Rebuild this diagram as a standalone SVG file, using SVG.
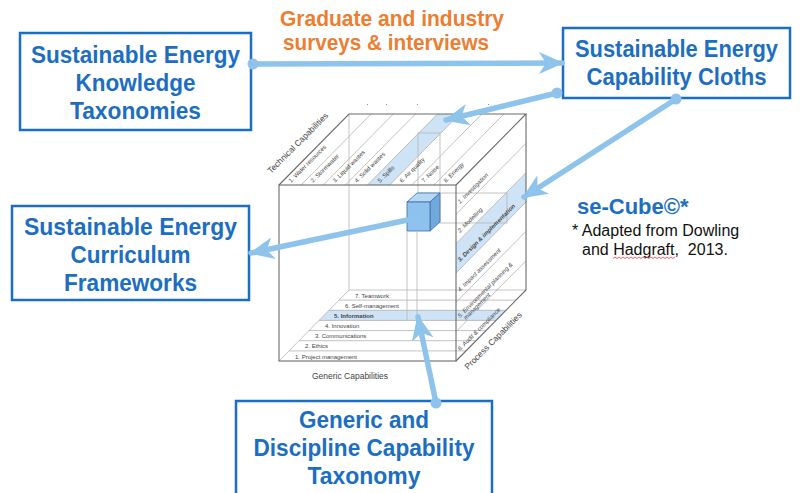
<svg xmlns="http://www.w3.org/2000/svg" width="800" height="493" viewBox="0 0 800 493">
<style>
.box{fill:#fff;stroke:#1b6ec2;stroke-width:2.5}
.bt{font-family:"Liberation Sans",Arial,sans-serif;font-weight:bold;font-size:23.5px;fill:#1b6ec2;text-anchor:middle}
.or{font-family:"Liberation Sans",Arial,sans-serif;font-weight:bold;font-size:21.5px;fill:#ed7d31;text-anchor:middle}
.edge{fill:none;stroke:#6b6b6b;stroke-width:1.1}
.hid{fill:none;stroke:#b5b5b5;stroke-width:0.8}
.str{fill:none;stroke:#a8a8a8;stroke-width:0.7}
.hl{fill:#cfe3f6;stroke:none}
.lab{font-family:"Liberation Sans",Arial,sans-serif;font-size:6px;fill:#444}
.labi{font-family:"Liberation Sans",Arial,sans-serif;font-size:6px;fill:#444;font-style:italic}
.cap{font-family:"Liberation Sans",Arial,sans-serif;font-size:8.5px;fill:#444}
.arr{fill:none;stroke:#8ec4ec;stroke-width:5.5;stroke-linecap:round}
</style>
<defs>
<marker id="ah" markerUnits="userSpaceOnUse" markerWidth="26" markerHeight="24" refX="23" refY="11" orient="auto" viewBox="0 0 26 24">
<path d="M0,0 L25,11 L0,22 L7,11 z" fill="#8ec4ec"/>
</marker>
<marker id="dot" markerUnits="userSpaceOnUse" markerWidth="12" markerHeight="12" refX="6" refY="6" viewBox="0 0 12 12">
<circle cx="6" cy="6" r="5.5" fill="#8ec4ec"/>
</marker>
</defs>
<rect width="800" height="493" fill="#fff"/>

<g id="cube">
<polygon points="279,185 456,185 526,114 349,114" fill="#fff"/>
<polygon class="hl" points="367.5,185 389.6,185 459.6,114 437.5,114"/>
<g class="str">
<line x1="301.1" y1="185" x2="371.1" y2="114"/>
<line x1="323.3" y1="185" x2="393.3" y2="114"/>
<line x1="345.4" y1="185" x2="415.4" y2="114"/>
<line x1="367.5" y1="185" x2="437.5" y2="114"/>
<line x1="389.6" y1="185" x2="459.6" y2="114"/>
<line x1="411.8" y1="185" x2="481.8" y2="114"/>
<line x1="433.9" y1="185" x2="503.9" y2="114"/>
</g>
<polygon class="hl" points="456,243.7 456,273 526,202 526,172.7"/>
<g class="str">
<line x1="456" y1="214.3" x2="526" y2="143.3"/>
<line x1="456" y1="243.7" x2="526" y2="172.7"/>
<line x1="456" y1="273" x2="526" y2="202"/>
<line x1="456" y1="302.3" x2="526" y2="231.3"/>
<line x1="456" y1="331.7" x2="526" y2="260.7"/>
</g>
<polygon class="hl" points="319,320.4 496,320.4 506,310.3 329,310.3"/>
<g class="str">
<line x1="289" y1="350.9" x2="466" y2="350.9"/>
<line x1="299" y1="340.7" x2="476" y2="340.7"/>
<line x1="309" y1="330.6" x2="486" y2="330.6"/>
<line x1="319" y1="320.4" x2="496" y2="320.4"/>
<line x1="329" y1="310.3" x2="506" y2="310.3"/>
<line x1="339" y1="300.1" x2="516" y2="300.1"/>
</g>
<g class="hid">
<line x1="349" y1="114" x2="349" y2="290"/>
<line x1="349" y1="290" x2="526" y2="290"/>
<line x1="279" y1="361" x2="349" y2="290"/>
<rect x="418" y="133" width="22" height="60"/>
<rect x="440" y="193" width="67" height="30"/>
<line x1="407" y1="232" x2="407" y2="320"/>
<line x1="417" y1="232" x2="417" y2="320"/>
</g>
<g class="edge">
<rect x="279" y="185" width="177" height="176"/>
<polyline points="279,185 349,114 526,114 456,185"/>
<polyline points="526,114 526,290 456,361"/>
</g>
<g fill="#999">
<rect x="367" y="104" width="1" height="1"/>
<rect x="386" y="104" width="1" height="1"/>
<rect x="417" y="104" width="1" height="1"/>
<rect x="488" y="104" width="1" height="1"/>
</g>
<g class="lab">
<text transform="translate(291,183) rotate(-45)">1. Water resources</text>
<text transform="translate(313,183) rotate(-45)">2. Stormwater</text>
<text transform="translate(335,183) rotate(-45)">3. Liquid wastes</text>
<text transform="translate(357,183) rotate(-45)">4. Solid wastes</text>
<text transform="translate(380,183) rotate(-45)">5. Spills</text>
<text transform="translate(402,183) rotate(-45)">6. Air quality</text>
<text transform="translate(424,183) rotate(-45)">7. Noise</text>
<text transform="translate(446,183) rotate(-45)">8. Energy</text>
</g>
<g class="labi">
<text transform="translate(460,204) rotate(-45)">1. Investigation</text>
<text transform="translate(460,233) rotate(-45)">2. Modelling</text>
<text transform="translate(460,262) rotate(-45)" font-weight="bold">3. Design &amp; implementation</text>
<text transform="translate(460,292) rotate(-45)">4. Impact assessment</text>
<text transform="translate(460,318) rotate(-45)">5. Environmental planning &amp;</text>
<text transform="translate(466,320) rotate(-45)">management</text>
<text transform="translate(460,351) rotate(-45)">6. Audit &amp; compliance</text>
</g>
<g class="lab">
<text x="355" y="298">7. Teamwork</text>
<text x="345" y="308">6. Self-management</text>
<text x="334" y="318" font-weight="bold">5. Information</text>
<text x="325" y="328">4. Innovation</text>
<text x="315" y="338">3. Communications</text>
<text x="305" y="348">2. Ethics</text>
<text x="295" y="358.5">1. Project management</text>
</g>
<text class="cap" transform="translate(271,174) rotate(-45)">Technical  Capabilities</text>
<text class="cap" x="350" y="379" text-anchor="middle">Generic Capabilities</text>
<text class="cap" transform="translate(468,370) rotate(-45)">Process Capabilities</text>
<polygon points="407,202 417,193 440,193 430,202" fill="#b7d8f5" stroke="#3a6ea5" stroke-width="0.8"/>
<polygon points="430,202 440,193 440,222 430,231" fill="#6fa9de" stroke="#3a6ea5" stroke-width="0.8"/>
<rect x="407" y="202" width="23" height="29" fill="#8fc1ee" stroke="#3a6ea5" stroke-width="0.8"/>
</g>

<g id="box-knowledge">
<rect class="box" x="20" y="33" width="231" height="97"/>
<text class="bt" x="135.5" y="63" textLength="209" lengthAdjust="spacingAndGlyphs">Sustainable Energy</text>
<text class="bt" x="135.5" y="91" textLength="120" lengthAdjust="spacingAndGlyphs">Knowledge</text>
<text class="bt" x="135.5" y="119" textLength="131" lengthAdjust="spacingAndGlyphs">Taxonomies</text>
</g>
<g id="box-cloths">
<rect class="box" x="563" y="28" width="227" height="70"/>
<text class="bt" x="676.5" y="57" textLength="203" lengthAdjust="spacingAndGlyphs">Sustainable Energy</text>
<text class="bt" x="676.5" y="85" textLength="180" lengthAdjust="spacingAndGlyphs">Capability Cloths</text>
</g>
<g id="box-curriculum">
<rect class="box" x="12" y="206" width="237" height="94"/>
<text class="bt" x="130.5" y="235" textLength="213" lengthAdjust="spacingAndGlyphs">Sustainable Energy</text>
<text class="bt" x="130.5" y="263" textLength="120" lengthAdjust="spacingAndGlyphs">Curriculum</text>
<text class="bt" x="130.5" y="291" textLength="133" lengthAdjust="spacingAndGlyphs">Frameworks</text>
</g>
<g id="box-generic">
<rect class="box" x="236" y="401" width="256" height="100"/>
<text class="bt" x="364" y="428" textLength="130" lengthAdjust="spacingAndGlyphs">Generic and</text>
<text class="bt" x="364" y="456" textLength="221" lengthAdjust="spacingAndGlyphs">Discipline Capability</text>
<text class="bt" x="364" y="484" textLength="113" lengthAdjust="spacingAndGlyphs">Taxonomy</text>
</g>
<g id="label-surveys">
<text class="or" x="392" y="26" textLength="224" lengthAdjust="spacingAndGlyphs">Graduate and industry</text>
<text class="or" x="386" y="50" textLength="206" lengthAdjust="spacingAndGlyphs">surveys &amp; interviews</text>
</g>
<g id="secube">
<text x="577" y="214" font-family="'Liberation Sans',Arial,sans-serif" font-weight="bold" font-size="22px" fill="#1b6ec2">se-Cube©*</text>
<text x="572" y="236" font-family="'Liberation Sans',Arial,sans-serif" font-size="16px" fill="#111">* Adapted from Dowling</text>
<text x="582" y="255" font-family="'Liberation Sans',Arial,sans-serif" font-size="16px" fill="#111">and Hadgraft,&#160; 2013.</text>
<path d="M613,258.5 l2,-1.5 l2,1.5 l2,-1.5 l2,1.5 l2,-1.5 l2,1.5 l2,-1.5 l2,1.5 l2,-1.5 l2,1.5 l2,-1.5 l2,1.5 l2,-1.5 l2,1.5 l2,-1.5 l2,1.5 l2,-1.5 l2,1.5 l2,-1.5 l2,1.5 l2,-1.5 l2,1.5 l2,-1.5 l2,1.5 l2,-1.5 l2,1.5 l2,-1.5 l2,1.5 l2,-1.5 l2,1.5 l2,-1.5" fill="none" stroke="#e04040" stroke-width="0.8"/>
</g>

<g id="connectors">
<line class="arr" x1="253" y1="64" x2="562" y2="63" marker-start="url(#dot)" marker-end="url(#ah)"/>
<line class="arr" x1="557" y1="93" x2="446" y2="120" marker-start="url(#dot)" marker-end="url(#ah)"/>
<line class="arr" x1="676" y1="99" x2="524" y2="197" marker-start="url(#dot)" marker-end="url(#ah)"/>
<line class="arr" x1="417" y1="218" x2="251" y2="253" marker-end="url(#ah)"/>
<line class="arr" x1="436" y1="403" x2="418" y2="317" marker-start="url(#dot)" marker-end="url(#ah)"/>
</g>
</svg>
